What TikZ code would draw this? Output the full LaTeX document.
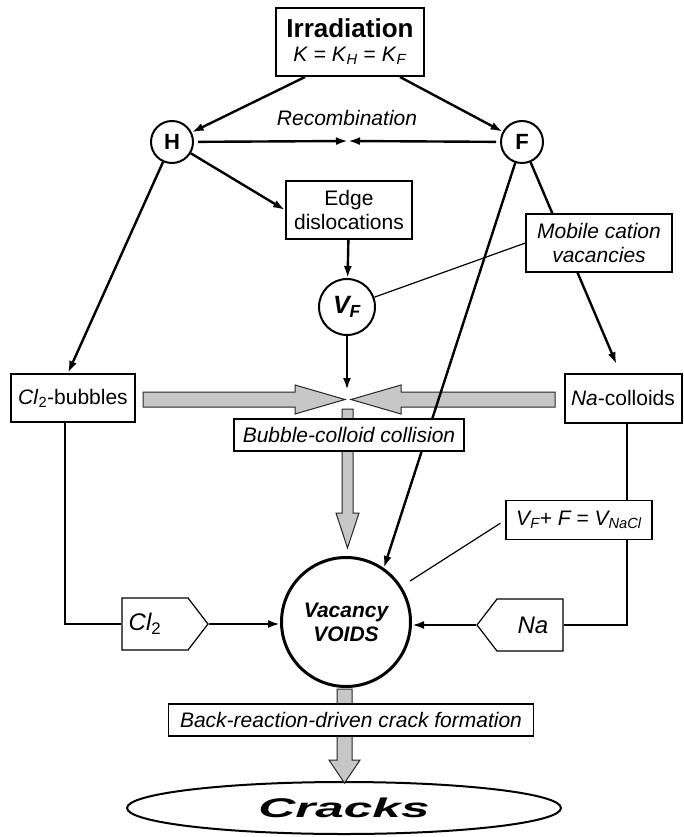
\documentclass[tikz,border=0pt]{standalone}
\usepackage{fontspec}
\setmainfont{Liberation Sans}
\usepackage{graphicx}
\usetikzlibrary{shapes.geometric,shapes.symbols,arrows.meta}
\newcommand\bodysize{\fontsize{21}{24}\selectfont}
\tikzset{
  box/.style={draw,line width=2pt,fill=white,align=center,inner sep=1pt,font=\bodysize},
  notebox/.style={draw,line width=1.2pt,fill=white,align=center,inner sep=1pt,font=\bodysize\itshape},
  state/.style={shape=circle,draw,line width=2pt,fill=white,inner sep=0pt,font=\fontsize{22}{24}\selectfont\bfseries},
  flow/.style={line width=2.4pt,-{Latex[length=12pt,width=8pt]}},
  feed/.style={line width=2.4pt},
  remark/.style={line width=1.2pt},
  blockarrow/.style={draw=black!85,line width=1pt,fill=black!22},
  tag/.style={shape=signal,draw,line width=1.2pt,fill=white,font=\fontsize{24}{26}\selectfont\itshape,signal pointer angle=105,minimum width=86pt,minimum height=52pt,inner sep=1pt},
}

\begin{document}
\begin{tikzpicture}[x=1pt,y=-1pt]
\useasboundingbox (0,0) rectangle (684,837);

\node[box,minimum width=148pt,minimum height=68pt] (irr) at (350,42) {{\fontsize{26}{28}\selectfont\bfseries Irradiation}\\\textit{K} = \textit{K}\textsubscript{\textit{H}} = \textit{K}\textsubscript{\textit{F}}};
\node[state,minimum size=42pt] (H) at (172,142) {H};
\node[state,minimum size=42pt] (F) at (522,142) {F};
\node[font=\bodysize\itshape] (recomb) at (347,118) {Recombination};
\coordinate (mid) at (348,141);
\node[box,minimum width=126pt,minimum height=58pt] (edge) at (349,210) {Edge\\dislocations};
\node[state,minimum size=56pt,font=\fontsize{25}{27}\selectfont\bfseries\itshape] (vf) at (347,307) {V\textsubscript{F}};
\coordinate (vftip) at (347,390);
\node[box,minimum width=124pt,minimum height=48pt] (bubbles) at (73,398) {\textit{Cl}\textsubscript{2}-bubbles};
\node[box,minimum width=117pt,minimum height=49pt] (colloids) at (623,398) {\textit{Na}-colloids};
\node[state,line width=3pt,minimum size=129pt,align=center,font=\bodysize\bfseries\itshape] (voids) at (346,622) {Vacancy\\VOIDS};
\node[tag,signal to=east] (cl2) at (155,624) {\hspace*{-20pt}Cl\textsubscript{\upshape 2}};
\node[tag,signal to=west] (na) at (530,625) {\hspace*{6pt}Na};
\node[ellipse,draw,line width=2pt,minimum width=434pt,minimum height=52pt,inner sep=0pt] (cracks) at (344,808) {\scalebox{1.9}[1]{\fontsize{27}{30}\selectfont\bfseries\itshape Cracks}};

% grey block arrows
\draw[blockarrow] (143,392) -- (295,392) -- (295,385) -- (345,399.5) -- (295,414) -- (295,407) -- (143,407) -- cycle;
\draw[blockarrow] (555,392) -- (401,392) -- (401,385) -- (351,399.5) -- (401,414) -- (401,407) -- (555,407) -- cycle;
\draw[blockarrow] (342,409) -- (342,513) -- (336,513) -- (347.5,548) -- (359,513) -- (353,513) -- (353,409) -- cycle;
\draw[blockarrow] (337,689) -- (337,760) -- (329,760) -- (344.5,783) -- (360,760) -- (352,760) -- (352,689) -- cycle;

\draw[flow] ([xshift=-45pt]irr.south) -- (H);
\draw[flow] ([xshift=50pt]irr.south) -- (F);
\draw[flow,shorten <=4pt] (H) -- (mid);
\draw[flow,shorten <=4pt] (F) -- (mid);
\draw[flow] (H) -- (edge.west);
\draw[flow] (edge) -- (vf);
\draw[flow] (vf) -- (vftip);
\draw[flow] (H) -- ([xshift=-5pt]bubbles.north);
\draw[flow,shorten >=9pt] (F) -- ([xshift=-3pt]colloids.north);
\draw[flow] (F) -- (voids.55);
\draw[feed] ([xshift=-8pt]bubbles.south) |- (cl2.west);
\draw[feed] ([xshift=4pt]colloids.south) |- (na.east);
\draw[flow] (cl2.east) -- (cl2.east -| voids.west);
\draw[flow] (na.west) -- (na.west -| voids.east);

% notes on top
\node[notebox,minimum width=146pt,minimum height=58pt] (mobile) at (599,243) {Mobile cation\\vacancies};
\node[notebox,minimum width=230pt,minimum height=32pt] (collision) at (349,435) {Bubble-colloid collision};
\node[notebox,minimum width=146pt,minimum height=39pt] (vnacl) at (579,520) {V\textsubscript{F}+ F = V\textsubscript{NaCl}};
\node[notebox,minimum width=365pt,minimum height=32pt] (back) at (351,720) {Back-reaction-driven crack formation};
\draw[remark] (mobile.west) -- (vf);
\draw[remark,shorten <=6pt,shorten >=10pt] (vnacl.west) -- (voids);
\end{tikzpicture}
\end{document}
